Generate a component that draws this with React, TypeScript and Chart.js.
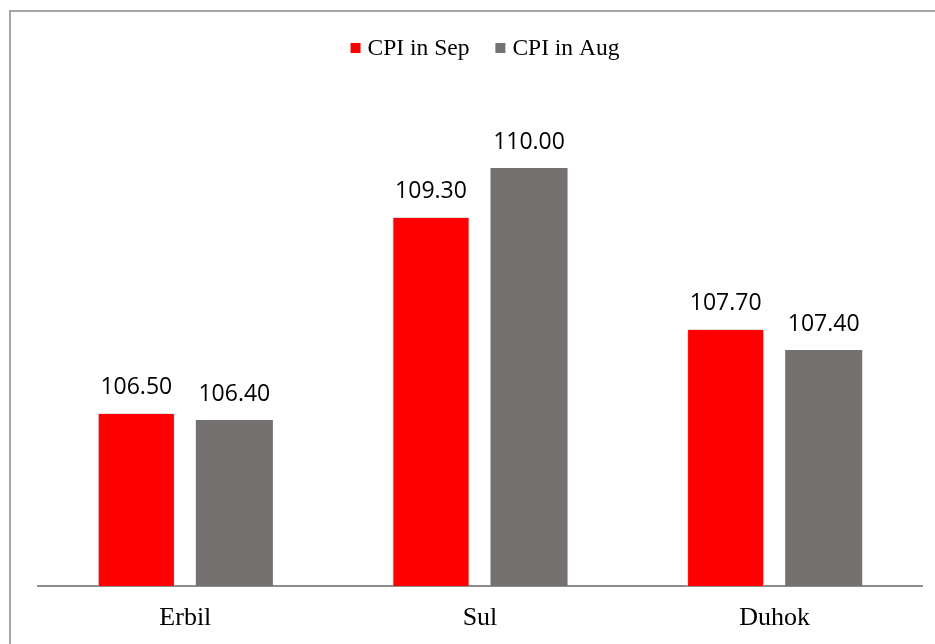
import React, { useEffect, useRef } from "react";
import { Chart, registerables } from "chart.js";

Chart.register(...registerables);

const categories = ["Erbil", "Sul", "Duhok"];
const cpiSep = [106.5, 109.3, 107.7];
const cpiAug = [106.4, 110.0, 107.4];
const seriesNames = ["CPI in Sep", "CPI in Aug"];
const seriesColors = ["#FF0000", "#767171"];
const yMin = 104.03;
const yMax = 110.97;

const W = 935;
const H = 644;

const framePlugin = {
  id: "frame",
  beforeDraw(chart: any) {
    const ctx = chart.ctx;
    ctx.save();
    ctx.fillStyle = "#ffffff";
    ctx.fillRect(0, 0, W, H);
    ctx.strokeStyle = "#a6a6a6";
    ctx.lineWidth = 2;
    ctx.beginPath();
    ctx.moveTo(10, H);
    ctx.lineTo(10, 11);
    ctx.lineTo(W, 11);
    ctx.stroke();
    ctx.restore();
  },
};

const shadowPlugin = {
  id: "barShadow",
  beforeDatasetDraw(chart: any, args: any) {
    if (args.index === 0) {
      const ctx = chart.ctx;
      ctx.save();
      ctx.shadowColor = "rgba(0,0,0,0.28)";
      ctx.shadowBlur = 4;
      ctx.shadowOffsetX = 0;
      ctx.shadowOffsetY = 0;
    }
  },
  afterDatasetDraw(chart: any, args: any) {
    if (args.index === 0) chart.ctx.restore();
  },
};

const labelPlugin = {
  id: "valueLabels",
  afterDatasetsDraw(chart: any) {
    const ctx = chart.ctx;
    ctx.save();
    ctx.font = "23px 'Open Sans'";
    ctx.fillStyle = "#000";
    ctx.textAlign = "center";
    ctx.textBaseline = "alphabetic";
    chart.data.datasets.forEach((ds: any, i: number) => {
      const meta = chart.getDatasetMeta(i);
      meta.data.forEach((bar: any, j: number) => {
        const v = ds.data[j] as number;
        ctx.fillText(v.toFixed(2), bar.x, bar.y - 19);
      });
    });
    ctx.restore();
  },
};

const legendPlugin = {
  id: "customLegend",
  afterDraw(chart: any) {
    const ctx = chart.ctx;
    ctx.save();
    ctx.font = "23.5px 'Liberation Serif'";
    ctx.textBaseline = "alphabetic";
    const box = 10;
    const gapBox = 7;
    const gapItem = 26;
    const items = chart.data.datasets.map((d: any) => ({
      label: d.label,
      color: d.backgroundColor,
      w: ctx.measureText(d.label).width,
    }));
    let total = 0;
    items.forEach((it: any, i: number) => {
      total += box + gapBox + it.w + (i < items.length - 1 ? gapItem : 0);
    });
    let x = 485 - total / 2;
    const baseline = 55;
    items.forEach((it: any) => {
      ctx.fillStyle = it.color;
      ctx.fillRect(x, 43, box, box);
      x += box + gapBox;
      ctx.fillStyle = "#000";
      ctx.fillText(it.label, x, baseline);
      x += it.w + gapItem;
    });
    ctx.restore();
  },
};

export default function App() {
  const ref = useRef<HTMLCanvasElement>(null);

  useEffect(() => {
    if (!ref.current) return;
    const chart = new Chart(ref.current, {
      type: "bar",
      data: {
        labels: categories,
        datasets: [
          {
            label: seriesNames[0],
            data: cpiSep,
            backgroundColor: seriesColors[0],
            borderColor: "rgba(255,255,255,0.85)",
            borderWidth: 1,
            categoryPercentage: 0.6655,
            barPercentage: 0.786,
          },
          {
            label: seriesNames[1],
            data: cpiAug,
            backgroundColor: seriesColors[1],
            borderWidth: 0,
            categoryPercentage: 0.6655,
            barPercentage: 0.786,
          },
        ],
      },
      options: {
        responsive: false,
        animation: false,
        devicePixelRatio: 1,
        layout: { padding: { top: 100, left: 38, right: 13, bottom: 0 } },
        plugins: {
          legend: { display: false },
          tooltip: { enabled: false },
          title: { display: false },
        },
        scales: {
          x: {
            grid: { display: false },
            border: { display: true, color: "#8c8c8c", width: 2 },
            ticks: {
              color: "#000",
              padding: 9,
              font: { family: "'Liberation Serif'", size: 26 },
            },
            afterFit(scale: any) {
              scale.height = 58;
            },
          },
          y: {
            display: false,
            min: yMin,
            max: yMax,
            grid: { display: false },
          },
        },
      },
      plugins: [framePlugin, shadowPlugin, labelPlugin, legendPlugin],
    });
    return () => chart.destroy();
  }, []);

  return (
    <div style={{ position: "absolute", left: 0, top: 0, width: W, height: H, background: "#fff" }}>
      <canvas ref={ref} width={W} height={H} style={{ display: "block" }} />
    </div>
  );
}
